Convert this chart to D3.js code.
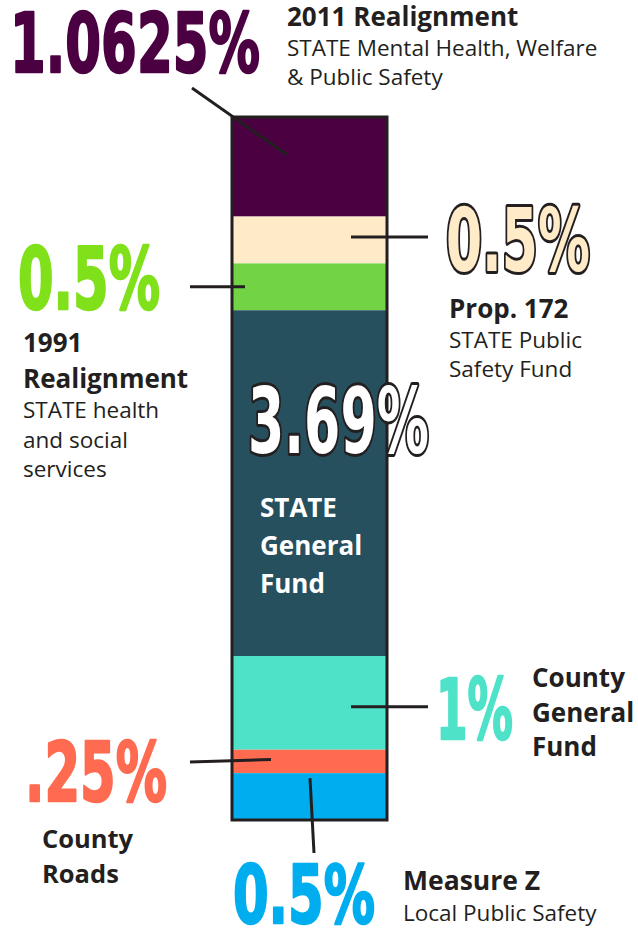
<!DOCTYPE html>
<html>
<head>
<meta charset="utf-8">
<script src="https://cdn.jsdelivr.net/npm/d3@7"></script>
<style>
  body { margin: 0; background: #fff; }
  text { font-family: "Open Sans", "Noto Sans", sans-serif; fill: #231f20; }
  .big { font-family: "DejaVu Sans", "Liberation Sans", sans-serif; font-weight: 700; }
</style>
</head>
<body>
<svg id="chart" width="638" height="930"></svg>
<script>
// stacked shares, top to bottom
const names = ["2011 Realignment", "Prop. 172", "1991 Realignment", "STATE General Fund",
               "County General Fund", "County Roads", "Measure Z"];
const values = [1.0625, 0.5, 0.5, 3.69, 1, 0.25, 0.5];
const valueLabels = ["1.0625%", "0.5%", "0.5%", "3.69%", "1%", ".25%", "0.5%"];
const colors = ["#4b0042", "#ffebc8", "#72d445", "#27505f", "#4ee2c8", "#ff6b50", "#00aeef"];
const numColors = ["#4b0042", "#ffebc8", "#80e01a", "#ffffff", "#4ee2c8", "#ff6b50", "#00aeef"];
const outlined = [false, true, false, true, false, false, false];

const width = 638, height = 930;
const svg = d3.select("#chart");
const ink = "#231f20";

const barX = 232, barW = 155, barTop = 117, barBottom = 820;

let stack = [];
let acc = 0;
values.forEach((v, i) => {
  stack.push({i: i, y0: acc, y1: acc + v});
  acc += v;
});

let y = d3.scaleLinear().domain([0, acc]).range([barTop, barBottom]);

// bar segments
svg.append("g").selectAll("rect.seg")
  .data(stack)
  .join("rect")
  .attr("class", "seg")
  .attr("x", barX)
  .attr("width", barW)
  .attr("y", d => y(d.y0))
  .attr("height", d => y(d.y1) - y(d.y0))
  .attr("fill", d => colors[d.i]);

svg.append("rect")
  .attr("x", barX).attr("y", barTop)
  .attr("width", barW).attr("height", barBottom - barTop)
  .attr("fill", "none").attr("stroke", ink).attr("stroke-width", 3);

let mid = i => y((stack[i].y0 + stack[i].y1) / 2);

// leader lines (outer end, inner end)
const leaders = [
  [192, 88, 287, () => mid(0) - 12],
  [428, null, 351, () => mid(1) - 3],
  [190, null, 245, () => mid(2)],
  [428, null, 351, () => mid(4) + 4],
  [190, 762, 271, () => mid(5) - 2],
  [314, 853, 310, () => y(stack[6].y0) + 5]
];
svg.append("g").selectAll("line")
  .data(leaders)
  .join("line")
  .attr("x1", d => d[0])
  .attr("y1", d => d[1] == null ? d[3]() : d[1])
  .attr("x2", d => d[2])
  .attr("y2", d => d[3]())
  .attr("stroke", ink)
  .attr("stroke-width", 3);

// big percentage numbers: [x, baseline, width, font size]
const numPos = [
  [10, 72, 250, 82],
  [446, 271, 144, 88],
  [18, 309, 142, 85],
  [248, 453, 181, 90],
  [436, 739, 77, 84],
  [25, 801, 142, 82],
  [233, 923, 142, 80]
];
let bigs = svg.append("g").selectAll("text.big")
  .data(stack)
  .join("text")
  .attr("class", "big")
  .attr("x", 0)
  .attr("y", 0)
  .attr("font-size", d => numPos[d.i][3])
  .style("fill", d => numColors[d.i])
  .attr("stroke", d => outlined[d.i] ? ink : numColors[d.i])
  .attr("stroke-width", d => outlined[d.i] ? 6 : 2.5)
  .attr("stroke-linejoin", "round")
  .attr("paint-order", "stroke")
  .text(d => valueLabels[d.i]);

// squeeze each number to its width, like a condensed display face
bigs.attr("transform", function(d) {
  let w = this.getComputedTextLength();
  let p = numPos[d.i];
  return `translate(${p[0]},${p[1]}) scale(${p[2] / w},1)`;
});

// descriptive labels: lines of [text, bold]
const descLines = [
  [["2011 Realignment", 1], ["STATE Mental Health, Welfare", 0], ["& Public Safety", 0]],
  [["Prop. 172", 1], ["STATE Public", 0], ["Safety Fund", 0]],
  [["1991", 1], ["Realignment", 1], ["STATE health", 0], ["and social", 0], ["services", 0]],
  [["STATE", 1], ["General", 1], ["Fund", 1]],
  [["County", 1], ["General", 1], ["Fund", 1]],
  [["County", 1], ["Roads", 1]],
  [["Measure Z", 1], ["Local Public Safety", 0]]
];
// x, baselines per line
const descPos = [
  [287, [26, 56, 85]],
  [449, [318, 348, 377]],
  [23, [352, 388, 418, 448, 477]],
  [260, [517, 555, 593]],
  [532, [687, 722, 756]],
  [42, [848, 883]],
  [403, [890, 921]]
];
const boldSize = [26, 26, 26, 26, 26, 25.5, 26.5];

descLines.forEach((lines, i) => {
  let g = svg.append("g");
  lines.forEach((ln, k) => {
    g.append("text")
      .attr("x", descPos[i][0])
      .attr("y", descPos[i][1][k])
      .attr("font-size", ln[1] ? boldSize[i] : 22.5)
      .attr("font-weight", ln[1] ? 700 : 400)
      .style("fill", i == 3 ? "#ffffff" : ink)
      .text(ln[0]);
  });
});
</script>
</body>
</html>
